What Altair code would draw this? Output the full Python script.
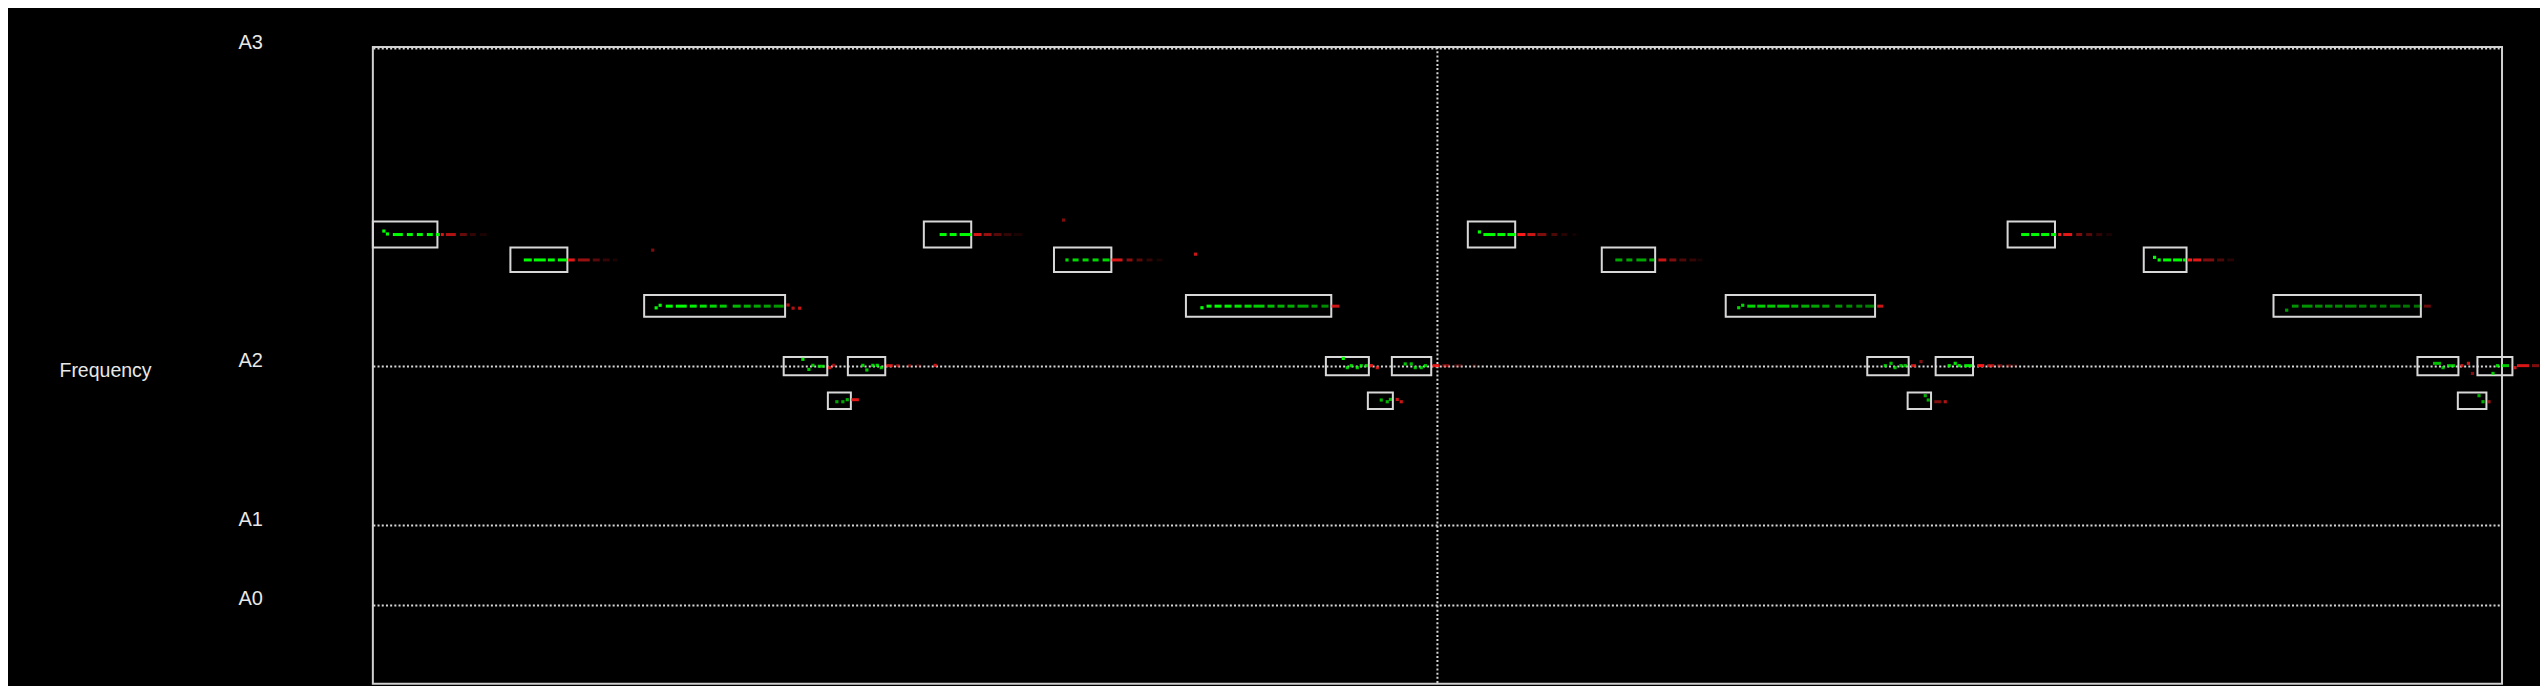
import altair as alt
import pandas as pd

# ---------------- data ----------------
pitch_names = ["G2", "A2", "C3", "D3", "D#3"]
pitch_hz = [98.0, 110.0, 130.81, 146.83, 155.56]
HZ = dict(zip(pitch_names, pitch_hz))

# detected notes (time in ms)
note_start = [0, 688, 1357, 2055, 2276, 2376, 2756, 3407, 4067, 4767, 4977, 5097,
              5477, 6147, 6767, 7475, 7677, 7817, 8177, 8858, 9507, 10227, 10429, 10527]
note_end = [323, 973, 2062, 2273, 2391, 2563, 2993, 3694, 4794, 4982, 5102, 5294,
            5714, 6414, 7514, 7682, 7794, 8004, 8414, 9072, 10244, 10432, 10572, 10702]
note_pitch = ["D#3", "D3", "C3", "A2", "G2", "A2", "D#3", "D3", "C3", "A2", "G2", "A2",
              "D#3", "D3", "C3", "A2", "G2", "A2", "D#3", "D3", "C3", "A2", "G2", "A2"]

tick_hz = [27.5, 55.0, 110.0, 220.0]
tick_labels = ["A0", "A1", "A2", "A3"]
cursor_ms = [5325]

# pitch track while the note sounds: (t0 ms, t1 ms, Hz, amplitude)
green_segments = [
    (100, 150, 155.6, 1), (170, 200, 155.6, 1), (220, 250, 155.6, 1), (270, 300, 155.6, 1), (315, 335, 155.6, 1),
    (755, 795, 146.8, 1), (805, 865, 146.8, 1), (875, 910, 146.8, 1), (925, 970, 146.8, 1),
    (1465, 1500, 130.8, 1), (1515, 1570, 130.8, 1), (1585, 1620, 130.8, .95), (1635, 1670, 130.8, .9),
    (1685, 1720, 130.8, .85), (1735, 1770, 130.8, .8), (1800, 1840, 130.8, .72), (1855, 1890, 130.8, .7),
    (1905, 1940, 130.8, .66), (1955, 1990, 130.8, .64), (2005, 2055, 130.8, .6),
    (2225, 2260, 110.0, .8),
    (2835, 2870, 155.6, 1), (2885, 2920, 155.6, 1), (2935, 2995, 155.6, 1),
    (3500, 3530, 146.8, .85), (3550, 3580, 146.8, .85), (3600, 3630, 146.8, .85), (3650, 3685, 146.8, .85),
    (4170, 4195, 130.8, 1), (4210, 4245, 130.8, 1), (4260, 4295, 130.8, .95), (4310, 4345, 130.8, .9),
    (4360, 4395, 130.8, .85), (4405, 4460, 130.8, .8), (4475, 4510, 130.8, .75), (4525, 4560, 130.8, .7),
    (4575, 4610, 130.8, .68), (4625, 4680, 130.8, .65), (4695, 4725, 130.8, .6), (4745, 4780, 130.8, .55),
    (5555, 5615, 155.6, 1), (5625, 5665, 155.6, 1), (5675, 5715, 155.6, 1),
    (6215, 6250, 146.8, .65), (6270, 6300, 146.8, .65), (6320, 6370, 146.8, .65), (6385, 6410, 146.8, .7),
    (6875, 6915, 130.8, .85), (6925, 6965, 130.8, .82), (6975, 7015, 130.8, .8), (7025, 7085, 130.8, .78),
    (7095, 7130, 130.8, .72), (7145, 7185, 130.8, .68), (7195, 7235, 130.8, .65), (7250, 7285, 130.8, .62),
    (7315, 7350, 130.8, .58), (7370, 7400, 130.8, .55), (7420, 7450, 130.8, .52), (7465, 7510, 130.8, .5),
    (7960, 8000, 110.2, .9),
    (8245, 8285, 155.6, 1), (8295, 8335, 155.6, 1), (8345, 8385, 155.6, 1), (8395, 8420, 155.6, 1),
    (8955, 8995, 146.8, 1), (9005, 9050, 146.8, 1), (9055, 9070, 146.8, 1),
    (9599, 9632, 130.8, .58), (9649, 9702, 130.8, .58), (9715, 9752, 130.8, .56), (9765, 9802, 130.8, .55),
    (9815, 9852, 130.8, .54), (9865, 9922, 130.8, .52), (9935, 9972, 130.8, .5), (9989, 10022, 130.8, .5),
    (10039, 10072, 130.8, .48), (10089, 10142, 130.8, .47), (10155, 10189, 130.8, .46), (10209, 10242, 130.8, .45),
    (10305, 10345, 111.0, .75), (10375, 10415, 110.2, .75),
    (10650, 10685, 110.2, .8),
]
# single pitch frames: (t ms, Hz, amplitude)
green_dots = [
    (55, 156.8, 1), (73, 155.8, 1),
    (1417, 130.2, 1), (1437, 131.1, 1),
    (2151, 112.4, .9), (2181, 108.9, .8), (2201, 110.3, .8),
    (2321, 97.7, .65), (2351, 97.7, .65), (2373, 98.4, .7),
    (2451, 110.3, .85), (2471, 108.7, .8), (2501, 110.3, .85), (2523, 110.3, .85), (2543, 109.5, .8),
    (3472, 146.8, .85),
    (4147, 130.25, 1),
    (4854, 112.7, 1), (4874, 109.5, .8), (4894, 110.2, .8), (4924, 109.5, .8), (4944, 110.2, .8), (4969, 110.2, .8),
    (5044, 98.3, .7), (5074, 97.7, .7), (5090, 98.5, .7),
    (5164, 110.8, .75), (5194, 110.8, .75), (5214, 109.5, .75), (5244, 109.5, .75), (5265, 110.2, .75),
    (5535, 156.5, 1),
    (6832, 130.25, .85), (6852, 131.1, .85),
    (7565, 110.2, .75), (7594, 111.0, .75), (7614, 109.5, .75), (7644, 110.2, .75), (7665, 110.2, .75),
    (7765, 99.8, .7), (7780, 98.3, .7),
    (7885, 110.2, .9), (7915, 111.0, .9), (7935, 110.2, .9),
    (8912, 147.7, 1), (8935, 146.8, 1),
    (9573, 129.4, .6),
    (10355, 109.5, .75),
    (10535, 99.8, .7), (10555, 97.7, .7),
    (10605, 107.5, .8), (10627, 110.2, .8),
]
# decaying pitch track after the note: (t0 ms, t1 ms, Hz, amplitude)
red_segments = [
    (340, 355, 155.6, .85), (365, 415, 155.6, .7), (435, 470, 155.6, .4), (485, 515, 155.6, .2), (535, 570, 155.6, .1),
    (975, 1010, 146.8, .9), (1025, 1085, 146.8, .6), (1100, 1135, 146.8, .35), (1150, 1185, 146.8, .2), (1200, 1225, 146.8, .1),
    (2393, 2431, 98.4, .9),
    (2568, 2601, 110.2, .8), (2618, 2635, 110.2, .6), (2675, 2693, 110.2, .4), (2718, 2743, 110.2, .2),
    (3005, 3045, 155.6, .85), (3055, 3095, 155.6, .6), (3105, 3145, 155.6, .35), (3155, 3195, 155.6, .2), (3205, 3250, 155.6, .1),
    (3695, 3750, 146.8, .85), (3770, 3800, 146.8, .55), (3820, 3850, 146.8, .35), (3870, 3900, 146.8, .2), (3920, 3950, 146.8, .1),
    (4795, 4835, 130.8, .8),
    (5300, 5335, 110.2, .9), (5350, 5385, 110.2, .5), (5410, 5450, 110.2, .25), (5500, 5520, 110.2, .15),
    (5725, 5765, 155.6, 1), (5775, 5815, 155.6, .8), (5825, 5870, 155.6, .5), (5895, 5925, 155.6, .3),
    (5945, 5975, 155.6, .15), (6000, 6020, 155.6, .08),
    (6430, 6470, 146.8, .8), (6485, 6520, 146.8, .5), (6535, 6570, 146.8, .3), (6585, 6620, 146.8, .2), (6625, 6650, 146.8, .1),
    (7525, 7555, 130.8, .8),
    (7694, 7719, 110.2, .8),
    (7810, 7845, 97.7, .5),
    (8025, 8060, 110.2, 1), (8075, 8110, 110.2, .7), (8125, 8150, 110.2, .45), (8170, 8195, 110.2, .3), (8200, 8225, 110.2, .15),
    (8430, 8445, 155.6, 1), (8455, 8500, 155.6, .9), (8520, 8550, 155.6, .5), (8570, 8600, 155.6, .35),
    (8620, 8650, 155.6, .2), (8670, 8700, 155.6, .1),
    (9075, 9100, 146.8, 1), (9105, 9145, 146.8, .9), (9155, 9210, 146.8, .5), (9225, 9260, 146.8, .3), (9275, 9310, 146.8, .15),
    (10259, 10294, 130.8, .4),
    (10725, 10785, 110.2, .85), (10800, 10835, 110.2, .5), (10850, 10875, 110.2, .3),
]
red_dots = [
    (1400, 150.2, .5),
    (2077, 131.2, .7), (2102, 130.1, .7), (2135, 130.1, .8),
    (2285, 109.5, .8), (2305, 110.3, .6),
    (2813, 110.3, .8),
    (3455, 160.6, .5),
    (4115, 148.8, .8),
    (4994, 110.2, .9), (5024, 109.5, .8),
    (5124, 98.5, .8), (5144, 97.7, .8),
    (7744, 111.6, .5),
    (7865, 97.7, .7),
    (10450, 110.2, .8), (10482, 111.0, .8), (10502, 107.5, .5),
    (10585, 97.7, .6),
    (10715, 109.5, .8),
]

# ---------------- tables ----------------
notes_df = pd.DataFrame({"start": note_start, "end": note_end,
                         "hz": [HZ[p] for p in note_pitch], "pitch": note_pitch})
gseg_df = pd.DataFrame(green_segments, columns=["t0", "t1", "hz", "amp"])
gdot_df = pd.DataFrame(green_dots, columns=["t", "hz", "amp"])
rseg_df = pd.DataFrame(red_segments, columns=["t0", "t1", "hz", "amp"])
rdot_df = pd.DataFrame(red_dots, columns=["t", "hz", "amp"])
cursor_df = pd.DataFrame({"t": cursor_ms})

label_expr = " : ".join(
    f"datum.value == {v} ? '{l}'" for v, l in zip(tick_hz, tick_labels)
) + " : ''"

xscale = alt.Scale(domain=[0, 10650], nice=False, zero=False)
yscale = alt.Scale(domain=[0, 220.5], nice=False)
TXT = "#e8e8e8"
yaxis = alt.Axis(
    values=tick_hz, labelExpr=label_expr, title="Frequency",
    titleAngle=0, titleAlign="left", titleBaseline="alphabetic",
    titleX=-314, titleY=330, titleFontSize=19.5, titleFontWeight="normal",
    titleColor=TXT, titleFont="Liberation Sans",
    labelColor=TXT, labelFontSize=20, labelFont="Liberation Sans",
    labelAlign="left", labelBaseline="alphabetic", labelPadding=135,
    labelFlush=False, labelOverlap=False,
    ticks=False, domain=False, grid=True,
    gridColor="#d8d8d8", gridDash=[2, 2.2], gridWidth=2,
)

rects = alt.Chart(notes_df).transform_calculate(
    lo="datum.hz * pow(2, -1/24)", hi="datum.hz * pow(2, 1/24)"
).mark_rect(fillOpacity=0, stroke="#d8d8d8", strokeWidth=2).encode(
    x=alt.X("start:Q", scale=xscale, axis=None),
    x2="end:Q",
    y=alt.Y("lo:Q", scale=yscale, axis=yaxis),
    y2="hi:Q",
)

cursor = alt.Chart(cursor_df).mark_rule(
    color="#d8d8d8", strokeWidth=2, strokeDash=[2, 2.2]
).encode(x=alt.X("t:Q", scale=xscale, axis=None))


def seg_layer(df, color):
    return alt.Chart(df).mark_rule(color=color, strokeWidth=3).encode(
        x=alt.X("t0:Q", scale=xscale, axis=None),
        x2="t1:Q",
        y=alt.Y("hz:Q", scale=yscale, axis=yaxis),
        opacity=alt.Opacity("amp:Q", scale=None, legend=None),
    )


def dot_layer(df, color):
    return alt.Chart(df).mark_square(color=color, size=10, filled=True, strokeWidth=0).encode(
        x=alt.X("t:Q", scale=xscale, axis=None),
        y=alt.Y("hz:Q", scale=yscale, axis=yaxis),
        opacity=alt.Opacity("amp:Q", scale=None, legend=None),
    )


chart = alt.layer(
    cursor,
    rects,
    seg_layer(rseg_df, "#ff1a1a"),
    dot_layer(rdot_df, "#ff1a1a"),
    seg_layer(gseg_df, "#00ff00"),
    dot_layer(gdot_df, "#00ff00"),
).properties(
    width=2130, height=637,
    autosize=alt.AutoSizeParams(type="none"),
    padding={"left": 365, "top": 39, "right": 38, "bottom": 2},
    background="black",
).configure_view(
    stroke="#d0d0d0", strokeWidth=2, fill="black"
)

chart.save("out.html", embed_options={"renderer": "svg", "actions": False})
